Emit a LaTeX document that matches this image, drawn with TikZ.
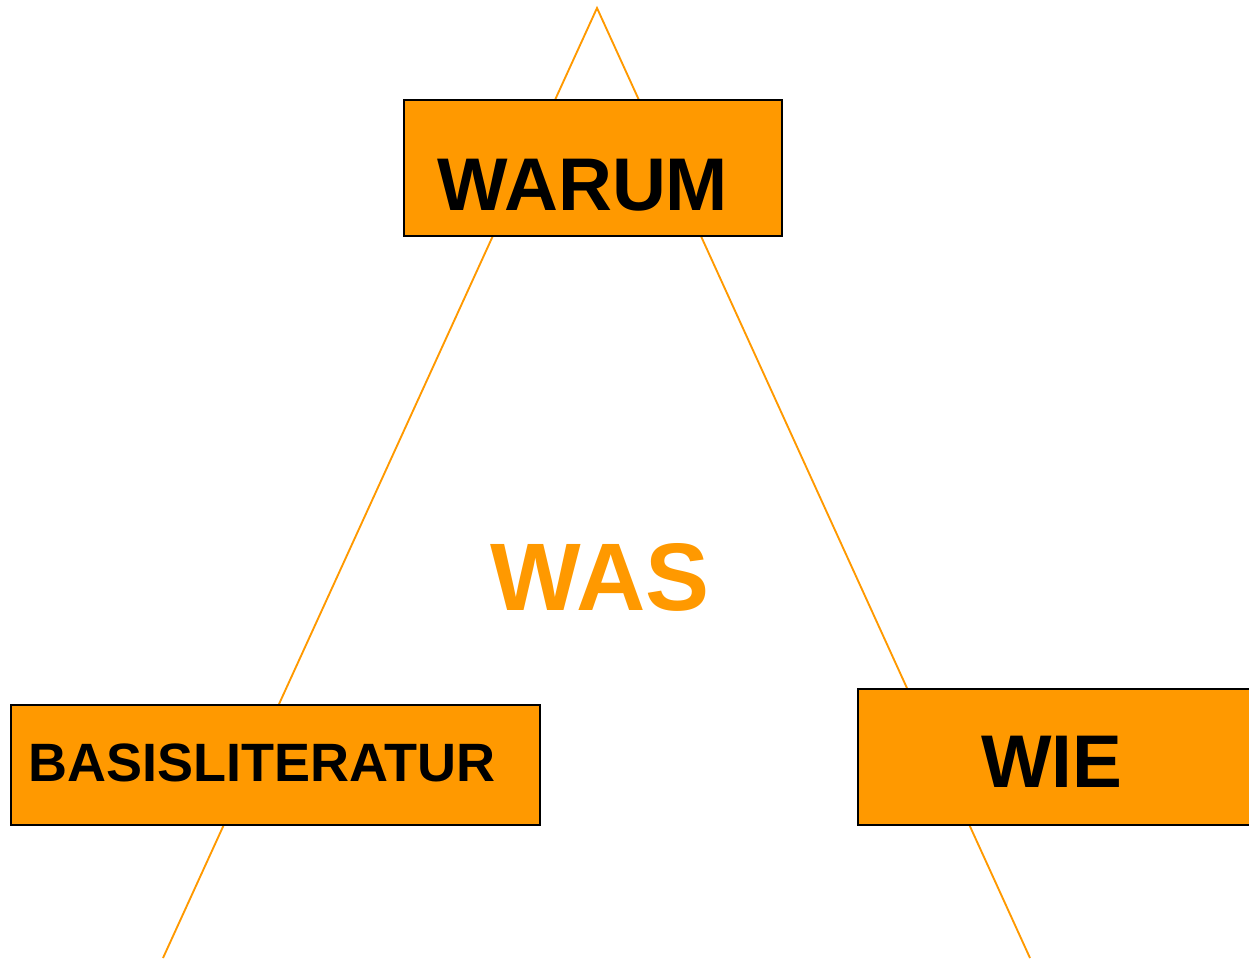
\documentclass[tikz,border=0pt]{standalone}
\usepackage{fontspec}
\setmainfont{Liberation Sans}
\definecolor{orng}{HTML}{FF9900}
\begin{document}
\begin{tikzpicture}[x=0.75pt,y=-0.75pt,
  tri/.style={draw=orng,line width=1.4pt},
  box/.style={draw=black,fill=orng,line width=1.4pt},
  lbl/.style={inner sep=0pt,font=\bfseries}]
\useasboundingbox (0,0) rectangle (1249,958);
\clip (0,0) rectangle (1249,958);
\coordinate (apex) at (597,8);
\coordinate (bl) at (163,958);
\coordinate (br) at (1030,958);
\draw[tri] (bl) -- (apex) -- (br);
\draw[box] (404,100) rectangle (782,236);
\draw[box] (11,705) rectangle (540,825);
\draw[box] (858,689) rectangle (1260,825);
\node[lbl,font=\bfseries\fontsize{56}{60}\selectfont] (warum) at (583,185) {WARUM};
\node[lbl,text=orng,font=\bfseries\fontsize{72}{76}\selectfont] (was) at (600,577.5) {WAS};
\node[lbl,font=\bfseries\fontsize{40.5}{44}\selectfont] (basis) at (262,762.5) {BASISLITERATUR};
\node[lbl,font=\bfseries\fontsize{56}{60}\selectfont] (wie) at (1052,762) {WIE};
\end{tikzpicture}
\end{document}
